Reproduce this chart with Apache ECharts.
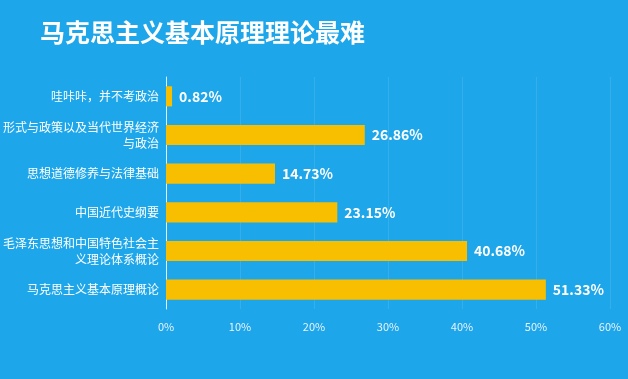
<!DOCTYPE html>
<html><head><meta charset="utf-8">
<script src="https://cdn.jsdelivr.net/npm/echarts@6/dist/echarts.min.js"></script>
<style>html,body{margin:0;padding:0;background:#1ea6ea;}#c{width:628px;height:379px;}</style>
</head><body><div id="c"></div>
<script>
const categories = ['哇咔咔，并不考政治','形式与政策以及当代世界经济与政治','思想道德修养与法律基础','中国近代史纲要','毛泽东思想和中国特色社会主义理论体系概论','马克思主义基本原理概论'];
const values = [0.82, 26.86, 14.73, 23.15, 40.68, 51.33];
const tickLabels = ['0%','10%','20%','30%','40%','50%','60%'];
const chart = echarts.init(document.getElementById('c'));
const font = '"Noto Sans CJK SC", "Noto Sans", sans-serif';
chart.setOption({
  backgroundColor: '#1ea6ea',
  title: {text: '马克思主义基本原理理论最难', left: 35, top: 15,
    textStyle: {color: '#fff', fontSize: 25, fontWeight: 'bold', fontFamily: font}},
  grid: {left: 163, right: 18, top: 77, bottom: 70, containLabel: false},
  xAxis: {type: 'value', min: 0, max: 60, interval: 10,
    axisLine: {show: false}, axisTick: {show: false},
    splitLine: {show: true, lineStyle: {color: 'rgba(255,255,255,0.1)', width: 1}},
    axisLabel: {color: '#e8f4fc', fontSize: 11, margin: 12, fontFamily: font,
      formatter: (v) => tickLabels[Math.round(v / 10)]}},
  yAxis: {type: 'category', data: categories, inverse: true,
    axisLine: {show: true, lineStyle: {color: '#dff1fb', width: 1}},
    axisTick: {show: false},
    axisLabel: {color: '#fff', fontSize: 12, margin: 7, fontFamily: font, lineHeight: 16,
      formatter: (s) => s.length > 13 ? s.slice(0, 13) + '\n' + s.slice(13) : s}},
  series: [{type: 'bar', data: values, barCategoryGap: '48%',
    itemStyle: {color: '#f8be00'},
    label: {show: true, position: 'right', distance: 7, color: '#fff', fontSize: 14,
      fontWeight: 'bold', fontFamily: font, formatter: (p) => p.value.toFixed(2) + '%'}}]
});
</script></body></html>
